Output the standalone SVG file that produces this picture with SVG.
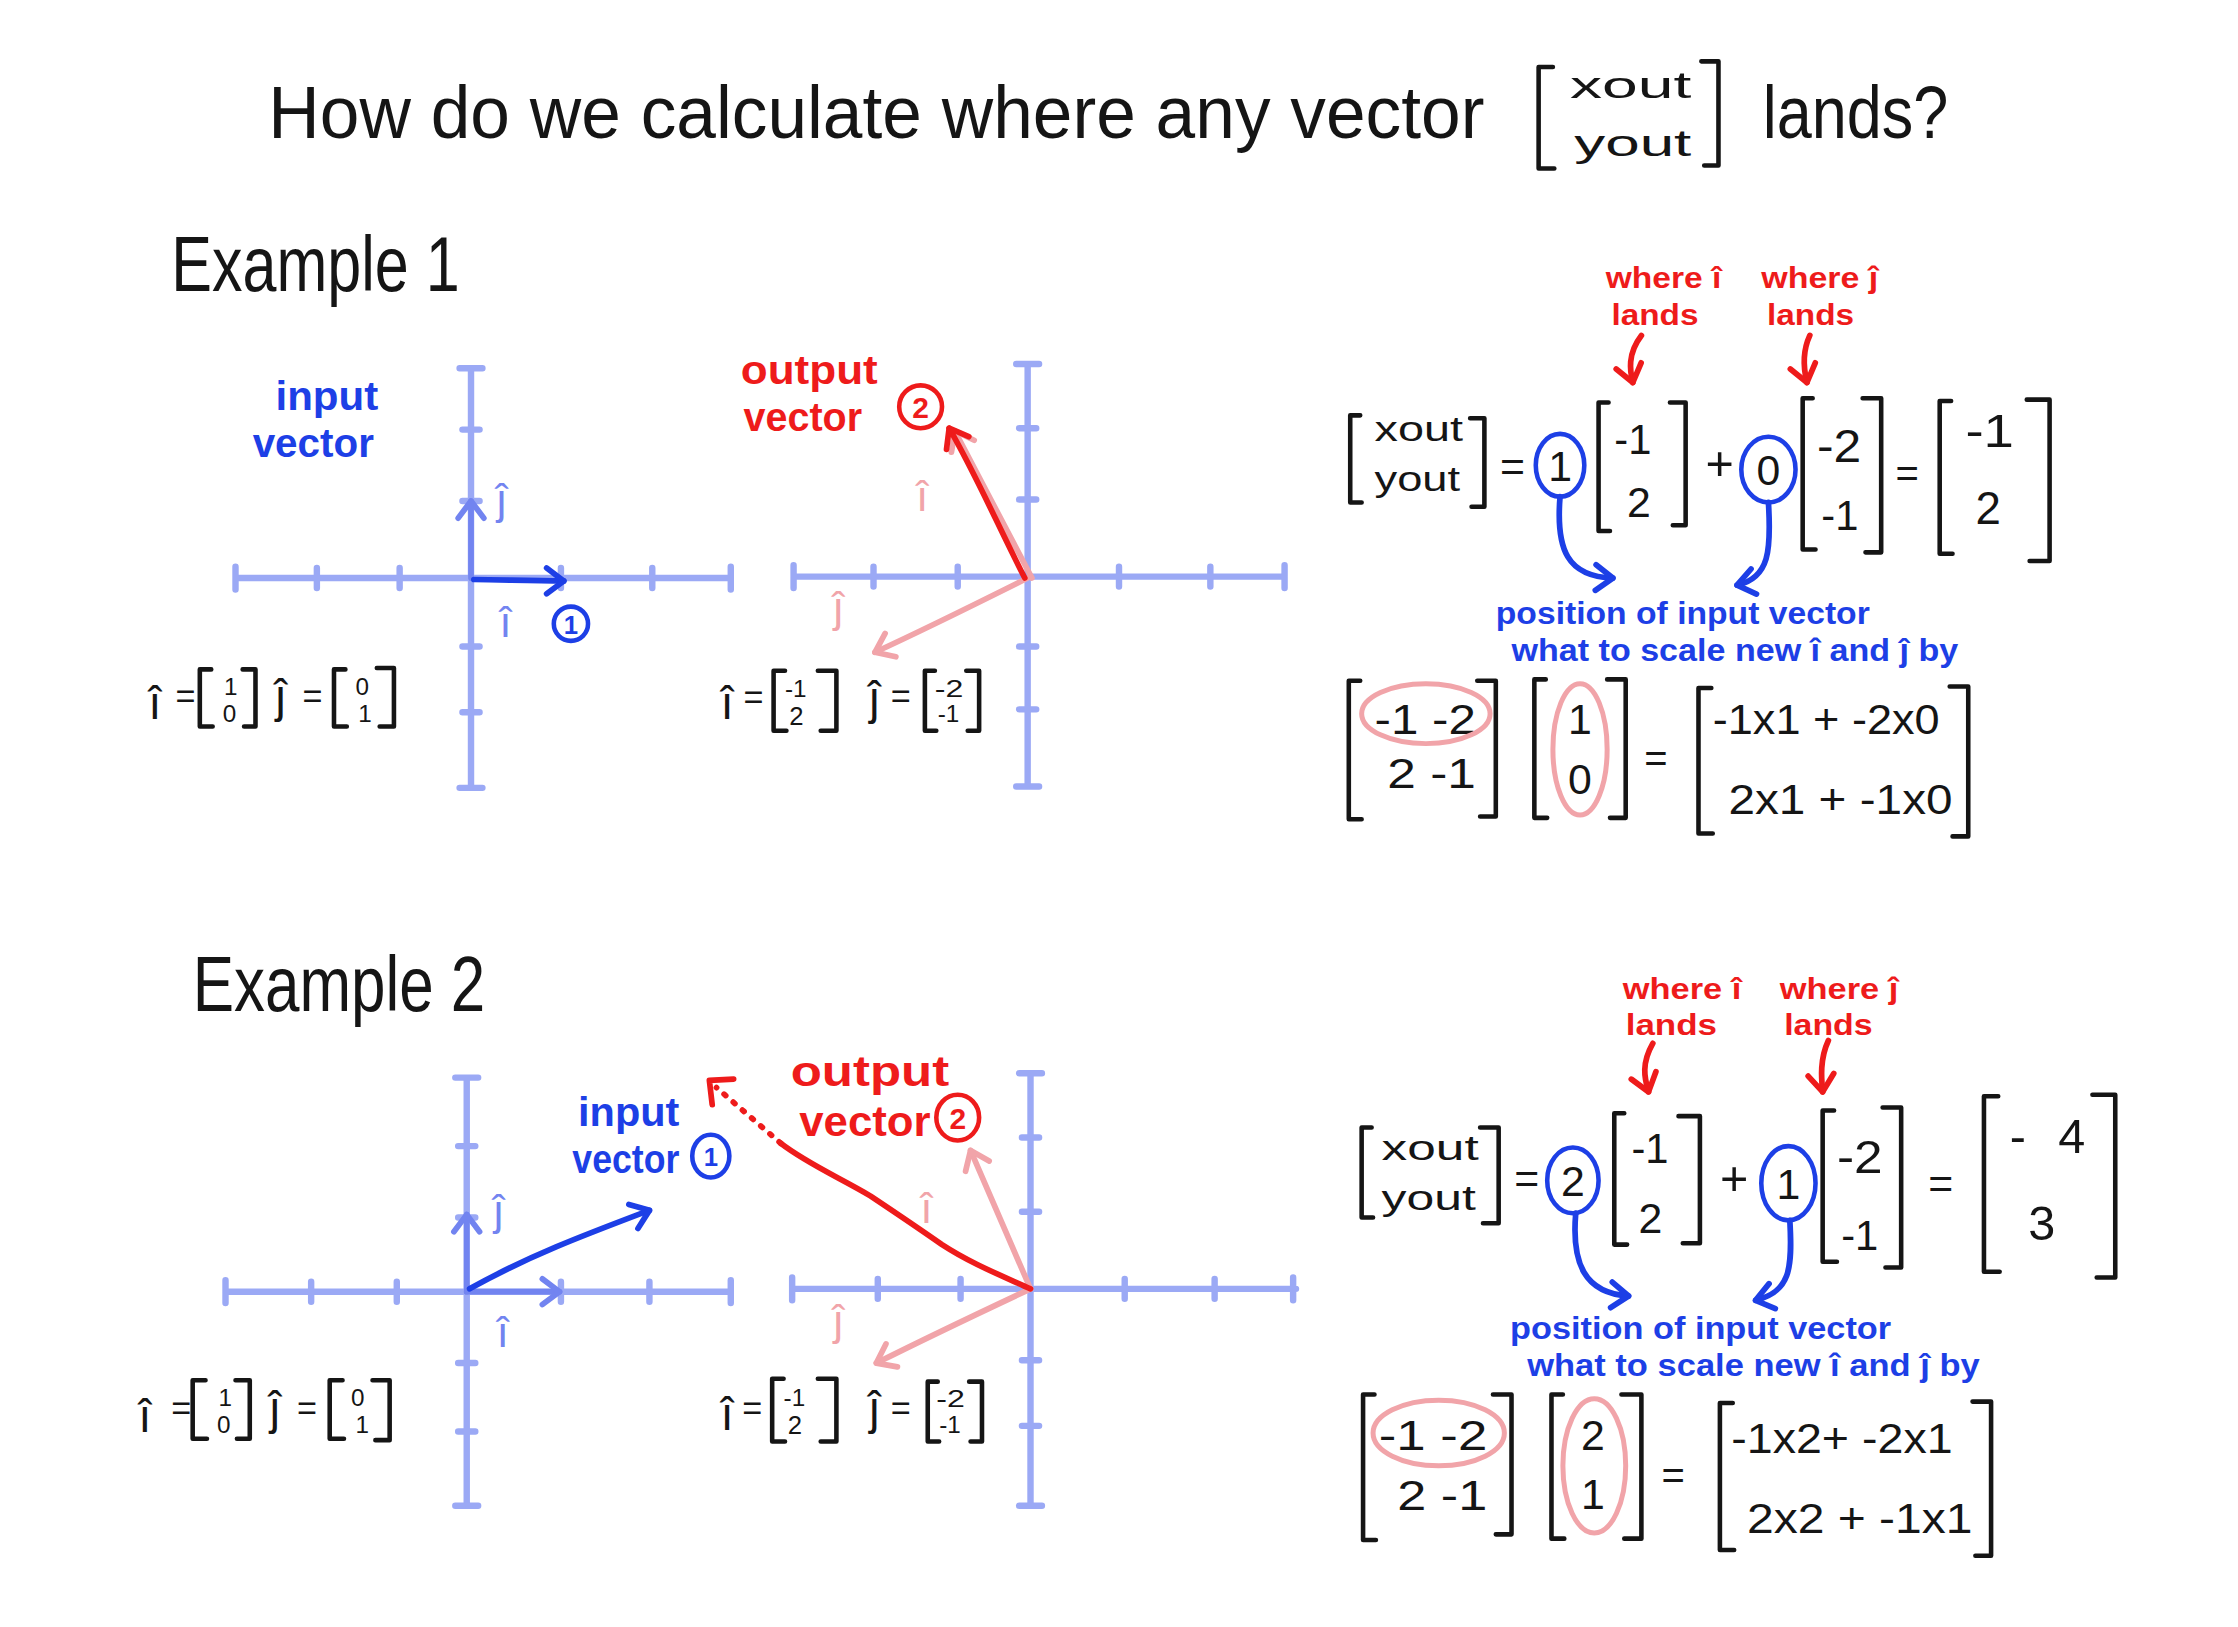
<svg xmlns="http://www.w3.org/2000/svg" width="2238" height="1627" viewBox="0 0 2238 1627">
<defs>
<style>
text{font-family:"Liberation Sans","DejaVu Sans",Arial,sans-serif}
.k{fill:#151515}
.b{fill:#1d3fe6;font-weight:bold}
.r{fill:#ee1b1b;font-weight:bold}
.p{fill:#f1a4a9}
.lb{fill:#7284f0}
.m{text-anchor:middle}
.ax{stroke:#9ba9f5;stroke-width:4.5;fill:none;stroke-linecap:round}
.br{stroke:#151515;stroke-width:3.2;fill:none;stroke-linecap:round;stroke-linejoin:round}
.vb{stroke:#1d3fe6;stroke-width:4;fill:none;stroke-linecap:round;stroke-linejoin:round}
.vl{stroke:#7284f0;stroke-width:4;fill:none;stroke-linecap:round}
.vr{stroke:#ee1b1b;stroke-width:4;fill:none;stroke-linecap:round;stroke-linejoin:round}
.vp{stroke:#f1a4a9;stroke-width:4;fill:none;stroke-linecap:round;stroke-linejoin:round}
.ob{stroke:#1d3fe6;stroke-width:3.2;fill:none}
.or{stroke:#ee1b1b;stroke-width:3.2;fill:none}
.op{stroke:#f1a4a9;stroke-width:3.5;fill:none}
</style>
<marker id="a-b" markerUnits="userSpaceOnUse" markerWidth="30" markerHeight="30" viewBox="-15 -15 30 30" refX="0" refY="0" orient="auto"><path d="M-12,-9 L0,0 L-12,9" fill="none" stroke="#1d3fe6" stroke-width="4" stroke-linecap="round" stroke-linejoin="round"/></marker>
<marker id="a-l" markerUnits="userSpaceOnUse" markerWidth="30" markerHeight="30" viewBox="-15 -15 30 30" refX="0" refY="0" orient="auto"><path d="M-12,-9 L0,0 L-12,9" fill="none" stroke="#7284f0" stroke-width="4" stroke-linecap="round" stroke-linejoin="round"/></marker>
<marker id="a-r" markerUnits="userSpaceOnUse" markerWidth="30" markerHeight="30" viewBox="-15 -15 30 30" refX="0" refY="0" orient="auto"><path d="M-12,-9 L0,0 L-12,9" fill="none" stroke="#ee1b1b" stroke-width="4" stroke-linecap="round" stroke-linejoin="round"/></marker>
<marker id="a-p" markerUnits="userSpaceOnUse" markerWidth="30" markerHeight="30" viewBox="-15 -15 30 30" refX="0" refY="0" orient="auto"><path d="M-12,-9 L0,0 L-12,9" fill="none" stroke="#f1a4a9" stroke-width="4" stroke-linecap="round" stroke-linejoin="round"/></marker>
</defs>
<rect width="2238" height="1627" fill="#ffffff"/>
<g transform="scale(1.4273)">

<g id="title">
<text class="k" x="188" y="97" font-size="52" textLength="852" lengthAdjust="spacingAndGlyphs">How do we calculate where any vector</text>
<path class="br" d="M1088,47 H1078 V118 H1089"/>
<text class="k" x="1100" y="69" font-size="26" textLength="85" lengthAdjust="spacingAndGlyphs">xout</text>
<text class="k" x="1103" y="109" font-size="26" textLength="82" lengthAdjust="spacingAndGlyphs">yout</text>
<path class="br" d="M1192,43 H1204 V116 H1194"/>
<text class="k" x="1235" y="97" font-size="52" textLength="130" lengthAdjust="spacingAndGlyphs">lands?</text>
</g>

<g id="example1-label"><text class="k" x="120" y="204" font-size="54" textLength="202" lengthAdjust="spacingAndGlyphs">Example 1</text></g>
<g id="example2-label"><text class="k" x="135" y="708" font-size="54" textLength="205" lengthAdjust="spacingAndGlyphs">Example 2</text></g>

<!-- Example 1 input plot -->
<g id="ex1-input-plot">
<path class="ax" d="M165,405 H512 M165,397 V413 M222,398 V412 M280,398 V412 M393,398 V412 M457,398 V412 M512,397 V413 M330,258 V552 M322,258 H338 M324,301 H336 M324,351 H336 M324,453 H336 M324,499 H336 M322,552 H338"/>
<path class="vl" d="M330,405 V351" marker-end="url(#a-l)"/>
<path class="vb" d="M332,406 C350,406 370,407 395,407" marker-end="url(#a-b)"/>
<text class="lb" x="348" y="360" font-size="30">ĵ</text>
<text class="lb" x="350" y="446" font-size="30">î</text>
<ellipse class="ob" cx="400" cy="437" rx="12" ry="12"/>
<text class="b m" x="400" y="444" font-size="18">1</text>
<text class="b" x="193" y="287" font-size="29" textLength="72" lengthAdjust="spacingAndGlyphs">input</text>
<text class="b" x="177" y="320" font-size="29" textLength="85" lengthAdjust="spacingAndGlyphs">vector</text>
<text class="k" x="104" y="504" font-size="32">î</text>
<text class="k" x="123" y="496" font-size="24">=</text>
<path class="br" d="M148,469 H140 V509 H149"/>
<text class="k" x="157" y="487" font-size="17">1</text>
<text class="k" x="156" y="506" font-size="17">0</text>
<path class="br" d="M170,469 H179 V509 H171"/>
<text class="k" x="193" y="499" font-size="32">ĵ</text>
<text class="k" x="212" y="496" font-size="24">=</text>
<path class="br" d="M242,469 H234 V509 H243"/>
<text class="k" x="249" y="487" font-size="17">0</text>
<text class="k" x="251" y="506" font-size="17">1</text>
<path class="br" d="M264,468 H276 V509 H266"/>
</g>

<!-- Example 1 output plot -->
<g id="ex1-output-plot">
<path class="ax" d="M556,404 H900 M556,396 V412 M612,397 V411 M671,397 V411 M784,397 V411 M848,397 V411 M900,396 V412 M720,255 V551 M712,255 H728 M714,300 H726 M714,350 H726 M714,453 H726 M714,497 H726 M712,551 H728"/>
<path class="vp" d="M723,405 L669,302" marker-end="url(#a-p)"/>
<path class="vp" d="M720,405 C690,420 650,440 613,457" marker-end="url(#a-p)"/>
<path class="vr" d="M718,405 C700,370 685,335 665,300" marker-end="url(#a-r)"/>
<text class="p" x="642" y="358" font-size="30">î</text>
<text class="p" x="584" y="436" font-size="30">ĵ</text>
<text class="r" x="519" y="269" font-size="28" textLength="96" lengthAdjust="spacingAndGlyphs">output</text>
<text class="r" x="521" y="302" font-size="28" textLength="83" lengthAdjust="spacingAndGlyphs">vector</text>
<ellipse class="or" cx="645" cy="285" rx="15" ry="15"/>
<text class="r m" x="645" y="293" font-size="21">2</text>
<text class="k" x="505" y="504" font-size="32">î</text>
<text class="k" x="521" y="497" font-size="24">=</text>
<path class="br" d="M550,470 H542 V512 H551"/>
<text class="k" x="550" y="488" font-size="17">-1</text>
<text class="k" x="553" y="508" font-size="18">2</text>
<path class="br" d="M573,470 H586 V512 H575"/>
<text class="k" x="609" y="500" font-size="32">ĵ</text>
<text class="k" x="624" y="496" font-size="24">=</text>
<path class="br" d="M655,470 H648 V512 H656"/>
<text class="k" x="655" y="488" font-size="17" textLength="20" lengthAdjust="spacingAndGlyphs">-2</text>
<text class="k" x="657" y="506" font-size="17">-1</text>
<path class="br" d="M677,470 H686 V512 H678"/>
</g>

<!-- Example 1 equations -->
<g id="ex1-equation">
<text class="r" x="1125" y="202" font-size="21" textLength="81" lengthAdjust="spacingAndGlyphs">where î</text>
<text class="r" x="1129" y="228" font-size="21" textLength="61" lengthAdjust="spacingAndGlyphs">lands</text>
<text class="r" x="1234" y="202" font-size="21" textLength="82" lengthAdjust="spacingAndGlyphs">where ĵ</text>
<text class="r" x="1238" y="228" font-size="21" textLength="61" lengthAdjust="spacingAndGlyphs">lands</text>
<path class="br" d="M953,291 H946 V352 H954"/>
<text class="k" x="963" y="309" font-size="24" textLength="62" lengthAdjust="spacingAndGlyphs">xout</text>
<text class="k" x="963" y="344" font-size="24" textLength="60" lengthAdjust="spacingAndGlyphs">yout</text>
<path class="br" d="M1030,293 H1040 V355 H1031"/>
<text class="k" x="1051" y="337" font-size="30">=</text>
<ellipse class="ob" cx="1093" cy="326" rx="17" ry="22"/>
<text class="k m" x="1093" y="337" font-size="30">1</text>
<path class="br" d="M1127,282 H1120 V372 H1128"/>
<text class="k" x="1131" y="318" font-size="30" textLength="26" lengthAdjust="spacingAndGlyphs">-1</text>
<text class="k" x="1140" y="362" font-size="30">2</text>
<path class="br" d="M1170,282 H1181 V368 H1172"/>
<text class="k" x="1195" y="336" font-size="34">+</text>
<ellipse class="ob" cx="1239" cy="329" rx="19" ry="23"/>
<text class="k m" x="1239" y="340" font-size="30">0</text>
<path class="br" d="M1270,279 H1263 V385 H1272"/>
<text class="k" x="1273" y="324" font-size="32" textLength="31" lengthAdjust="spacingAndGlyphs">-2</text>
<text class="k" x="1276" y="371" font-size="30" textLength="26" lengthAdjust="spacingAndGlyphs">-1</text>
<path class="br" d="M1305,279 H1318 V387 H1307"/>
<text class="k" x="1328" y="341" font-size="28">=</text>
<path class="br" d="M1367,281 H1359 V388 H1368"/>
<text class="k" x="1377" y="313" font-size="32" textLength="34" lengthAdjust="spacingAndGlyphs">-1</text>
<text class="k" x="1384" y="367" font-size="32">2</text>
<path class="br" d="M1420,280 H1436 V393 H1422"/>
<text class="b" x="1048" y="437" font-size="22" textLength="262" lengthAdjust="spacingAndGlyphs">position of input vector</text>
<text class="b" x="1059" y="463" font-size="22" textLength="313" lengthAdjust="spacingAndGlyphs">what to scale new î and ĵ by</text>
<path class="br" d="M953,477 H945 V574 H954"/>
<text class="k" x="963" y="514" font-size="30" textLength="71" lengthAdjust="spacingAndGlyphs">-1 -2</text>
<text class="k" x="972" y="552" font-size="30" textLength="62" lengthAdjust="spacingAndGlyphs">2 -1</text>
<path class="br" d="M1035,477 H1048 V572 H1037"/>
<ellipse class="op" cx="999" cy="500" rx="45" ry="21"/>
<path class="br" d="M1083,476 H1075 V573 H1084"/>
<text class="k m" x="1107" y="514" font-size="30">1</text>
<text class="k m" x="1107" y="556" font-size="30">0</text>
<path class="br" d="M1126,476 H1139 V573 H1128"/>
<ellipse class="op" cx="1107" cy="525" rx="19" ry="46"/>
<text class="k" x="1152" y="541" font-size="28">=</text>
<path class="br" d="M1199,482 H1190 V584 H1200"/>
<text class="k" x="1200" y="514" font-size="30" textLength="159" lengthAdjust="spacingAndGlyphs">-1x1 + -2x0</text>
<text class="k" x="1211" y="570" font-size="30" textLength="157" lengthAdjust="spacingAndGlyphs">2x1 + -1x0</text>
<path class="br" d="M1366,481 H1379 V586 H1368"/>
</g>

<!-- Example 2 input plot -->
<g id="ex2-input-plot">
<path class="ax" d="M158,905 H512 M158,897 V913 M218,898 V912 M278,898 V912 M393,898 V912 M455,898 V912 M512,897 V913 M327,755 V1055 M319,755 H335 M321,803 H333 M321,853 H333 M321,955 H333 M321,1003 H333 M319,1055 H335"/>
<path class="vl" d="M327,905 V851" marker-end="url(#a-l)"/>
<path class="vl" d="M327,905 H392" marker-end="url(#a-l)"/>
<path class="vb" d="M329,903 C370,880 410,865 455,848" marker-end="url(#a-b)"/>
<text class="lb" x="346" y="858" font-size="30">ĵ</text>
<text class="lb" x="348" y="944" font-size="30">î</text>
<text class="b" x="405" y="789" font-size="28" textLength="71" lengthAdjust="spacingAndGlyphs">input</text>
<text class="b" x="401" y="822" font-size="28" textLength="75" lengthAdjust="spacingAndGlyphs">vector</text>
<ellipse class="ob" cx="498" cy="810" rx="13" ry="15"/>
<text class="b m" x="498" y="817" font-size="18">1</text>
<text class="k" x="97" y="1003" font-size="32">î</text>
<text class="k" x="120" y="995" font-size="24">=</text>
<path class="br" d="M144,967 H135 V1008 H145"/>
<text class="k" x="153" y="985" font-size="17">1</text>
<text class="k" x="152" y="1004" font-size="17">0</text>
<path class="br" d="M165,967 H175 V1008 H166"/>
<text class="k" x="189" y="998" font-size="32">ĵ</text>
<text class="k" x="208" y="995" font-size="24">=</text>
<path class="br" d="M240,967 H231 V1008 H241"/>
<text class="k" x="246" y="985" font-size="17">0</text>
<text class="k" x="249" y="1004" font-size="17">1</text>
<path class="br" d="M261,967 H273 V1009 H263"/>
</g>

<!-- Example 2 output plot -->
<g id="ex2-output-plot">
<path class="ax" d="M555,903 H908 M555,895 V911 M615,896 V910 M673,896 V910 M788,896 V910 M851,896 V910 M906,895 V911 M722,752 V1055 M714,752 H730 M716,797 H728 M716,849 H728 M716,953 H728 M716,999 H728 M714,1055 H730"/>
<path class="vp" d="M722,903 L680,806" marker-end="url(#a-p)"/>
<path class="vp" d="M722,903 C690,918 650,937 614,955" marker-end="url(#a-p)"/>
<path class="vr" d="M722,903 C700,893 680,885 660,872 C640,858 625,848 610,838 C590,826 565,815 547,801"/>
<path class="vr" d="M547,801 L502,762" stroke-dasharray="1.5 7"/>
<path class="vr" d="M514,756 L497,757 L499,774"/>
<text class="p" x="645" y="857" font-size="30">î</text>
<text class="p" x="584" y="935" font-size="30">ĵ</text>
<text class="r" x="554" y="761" font-size="30" textLength="111" lengthAdjust="spacingAndGlyphs">output</text>
<text class="r" x="560" y="796" font-size="30" textLength="92" lengthAdjust="spacingAndGlyphs">vector</text>
<ellipse class="or" cx="671" cy="783" rx="15" ry="16"/>
<text class="r m" x="671" y="791" font-size="21">2</text>
<text class="k" x="505" y="1002" font-size="32">î</text>
<text class="k" x="520" y="995" font-size="24">=</text>
<path class="br" d="M549,966 H541 V1010 H550"/>
<text class="k" x="549" y="985" font-size="17">-1</text>
<text class="k" x="552" y="1005" font-size="18">2</text>
<path class="br" d="M573,966 H586 V1010 H575"/>
<text class="k" x="609" y="998" font-size="32">ĵ</text>
<text class="k" x="624" y="995" font-size="24">=</text>
<path class="br" d="M657,968 H650 V1010 H658"/>
<text class="k" x="656" y="986" font-size="17" textLength="20" lengthAdjust="spacingAndGlyphs">-2</text>
<text class="k" x="658" y="1004" font-size="17">-1</text>
<path class="br" d="M679,968 H688 V1010 H680"/>
</g>

<!-- Example 2 equations -->
<g id="ex2-equation">
<text class="r" x="1137" y="700" font-size="21" textLength="83" lengthAdjust="spacingAndGlyphs">where î</text>
<text class="r" x="1139" y="725" font-size="21" textLength="64" lengthAdjust="spacingAndGlyphs">lands</text>
<text class="r" x="1247" y="700" font-size="21" textLength="83" lengthAdjust="spacingAndGlyphs">where ĵ</text>
<text class="r" x="1250" y="725" font-size="21" textLength="62" lengthAdjust="spacingAndGlyphs">lands</text>
<path class="br" d="M961,790 H954 V853 H962"/>
<text class="k" x="968" y="813" font-size="24" textLength="68" lengthAdjust="spacingAndGlyphs">xout</text>
<text class="k" x="968" y="848" font-size="24" textLength="66" lengthAdjust="spacingAndGlyphs">yout</text>
<path class="br" d="M1037,790 H1050 V857 H1039"/>
<text class="k" x="1061" y="836" font-size="30">=</text>
<ellipse class="ob" cx="1102" cy="827" rx="18" ry="23"/>
<text class="k m" x="1102" y="838" font-size="30">2</text>
<path class="br" d="M1138,780 H1131 V872 H1140"/>
<text class="k" x="1143" y="815" font-size="30" textLength="26" lengthAdjust="spacingAndGlyphs">-1</text>
<text class="k" x="1148" y="864" font-size="30">2</text>
<path class="br" d="M1176,782 H1191 V871 H1179"/>
<text class="k" x="1205" y="837" font-size="34">+</text>
<ellipse class="ob" cx="1253" cy="829" rx="19" ry="26"/>
<text class="k m" x="1253" y="840" font-size="30">1</text>
<path class="br" d="M1285,778 H1277 V884 H1287"/>
<text class="k" x="1287" y="822" font-size="32" textLength="32" lengthAdjust="spacingAndGlyphs">-2</text>
<text class="k" x="1290" y="876" font-size="30" textLength="26" lengthAdjust="spacingAndGlyphs">-1</text>
<path class="br" d="M1319,776 H1332 V888 H1321"/>
<text class="k" x="1351" y="839" font-size="30">=</text>
<path class="br" d="M1400,768 H1390 V891 H1401"/>
<text class="k" x="1408" y="808" font-size="34" textLength="53" lengthAdjust="spacing">-4</text>
<text class="k" x="1421" y="869" font-size="34">3</text>
<path class="br" d="M1466,767 H1482 V895 H1469"/>
<text class="b" x="1058" y="938" font-size="22" textLength="267" lengthAdjust="spacingAndGlyphs">position of input vector</text>
<text class="b" x="1070" y="964" font-size="22" textLength="317" lengthAdjust="spacingAndGlyphs">what to scale new î and ĵ by</text>
<path class="br" d="M963,977 H955 V1079 H964"/>
<text class="k" x="966" y="1016" font-size="30" textLength="76" lengthAdjust="spacingAndGlyphs">-1 -2</text>
<text class="k" x="979" y="1058" font-size="30" textLength="63" lengthAdjust="spacingAndGlyphs">2 -1</text>
<path class="br" d="M1046,977 H1059 V1075 H1048"/>
<ellipse class="op" cx="1008" cy="1004" rx="46" ry="23"/>
<path class="br" d="M1095,977 H1087 V1078 H1096"/>
<text class="k m" x="1116" y="1016" font-size="30">2</text>
<text class="k m" x="1116" y="1057" font-size="30">1</text>
<path class="br" d="M1136,977 H1150 V1078 H1138"/>
<ellipse class="op" cx="1117" cy="1027" rx="22" ry="47"/>
<text class="k" x="1164" y="1043" font-size="28">=</text>
<path class="br" d="M1214,983 H1205 V1086 H1215"/>
<text class="k" x="1213" y="1018" font-size="30" textLength="155" lengthAdjust="spacingAndGlyphs">-1x2+ -2x1</text>
<text class="k" x="1224" y="1074" font-size="30" textLength="158" lengthAdjust="spacingAndGlyphs">2x2 + -1x1</text>
<path class="br" d="M1382,982 H1395 V1090 H1384"/>
</g>

<g id="connectors">
<path class="vr" d="M1150,235 C1140,248 1142,260 1144,268" marker-end="url(#a-r)"/>
<path class="vr" d="M1268,235 C1262,248 1264,260 1266,268" marker-end="url(#a-r)"/>
<path class="vb" d="M1093,348 C1090,385 1098,404 1130,405" marker-end="url(#a-b)"/>
<path class="vb" d="M1239,352 C1241,385 1240,405 1217,410" marker-end="url(#a-b)"/>
<path class="vr" d="M1158,731 C1150,745 1152,755 1155,765" marker-end="url(#a-r)"/>
<path class="vr" d="M1281,729 C1275,742 1276,755 1277,765" marker-end="url(#a-r)"/>
<path class="vb" d="M1104,850 C1101,885 1110,906 1141,908" marker-end="url(#a-b)"/>
<path class="vb" d="M1254,855 C1256,890 1254,905 1230,911" marker-end="url(#a-b)"/>
</g>

</g>
</svg>
